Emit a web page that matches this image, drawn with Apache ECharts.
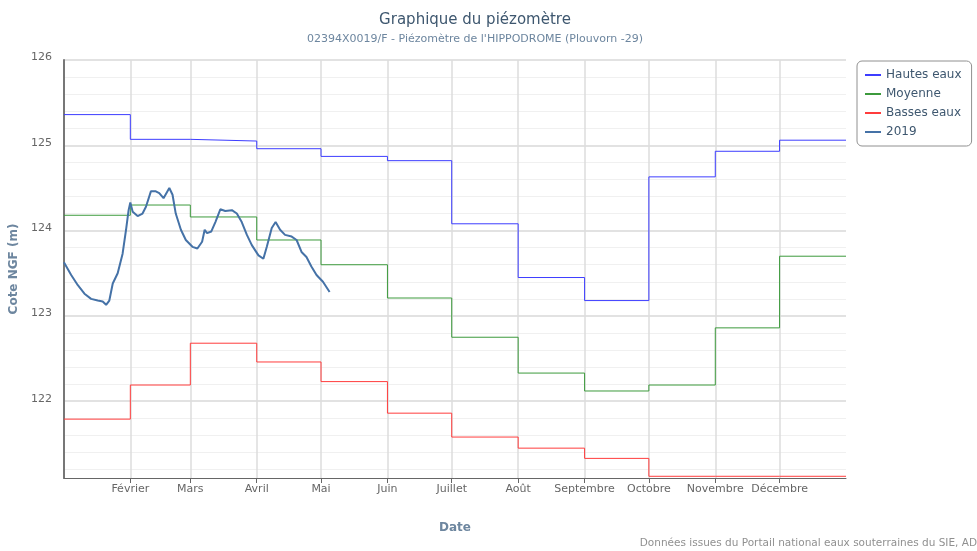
<!DOCTYPE html>
<html>
<head>
<meta charset="utf-8">
<script src="https://cdn.jsdelivr.net/npm/echarts@6/dist/echarts.min.js"></script>
<style>
  html, body { margin: 0; padding: 0; background: #fff; }
  #main { width: 977px; height: 551px; }
</style>
</head>
<body>
<div id="main"></div>
<script>
// jour de l'année (2019) au début de chaque mois, + fin d'année
const monthStarts = [0, 31, 59, 90, 120, 151, 181, 212, 243, 273, 304, 334, 365];
const monthNames = ['Janvier', 'Février', 'Mars', 'Avril', 'Mai', 'Juin', 'Juillet', 'Août',
  'Septembre', 'Octobre', 'Novembre', 'Décembre'];
const xTickDays = [31, 59, 90, 120, 151, 181, 212, 243, 273, 304, 334];

// valeurs mensuelles (m NGF)
const hautesEaux = [125.36, 125.07, 125.05, 124.96, 124.87, 124.82, 124.08, 123.45, 123.18, 124.63, 124.93, 125.06];
const moyenne = [124.18, 124.30, 124.16, 123.89, 123.60, 123.21, 122.75, 122.33, 122.12, 122.19, 122.86, 123.70];
const bassesEaux = [121.79, 122.19, 122.68, 122.46, 122.23, 121.86, 121.58, 121.45, 121.33, 121.12, 121.12, 121.12];

// 2019 : jour de l'année / niveau
const days2019 = [0, 3.4, 6.5, 9.6, 12.7, 15.8, 18.1, 19.7, 21.2, 22.8, 25.1, 27.4, 29, 30.2, 31,
  32.1, 34.4, 36.7, 38.3, 40.6, 42.9, 44.5, 46.5, 49.2, 50.7, 52.2, 54.6, 56.9, 60, 62.3,
  64.5, 65.7, 66.8, 68.8, 70.7, 73, 75.3, 78.4, 80.7, 83, 85.4, 87.7, 90.8, 93.1, 94.7,
  97, 98.8, 100.9, 103.2, 106.3, 108.6, 110.9, 113.2, 115.5, 117.9, 120.9, 124];
const niveaux2019 = [123.63, 123.48, 123.36, 123.26, 123.20, 123.18, 123.17, 123.13, 123.18, 123.38,
  123.50, 123.73, 124.01, 124.24, 124.33, 124.22, 124.17, 124.20, 124.28, 124.46, 124.46, 124.44,
  124.38, 124.50, 124.42, 124.20, 124.01, 123.89, 123.81, 123.79, 123.87, 124.01, 123.97, 123.99,
  124.10, 124.25, 124.23, 124.24, 124.20, 124.10, 123.95, 123.83, 123.71, 123.67, 123.81, 124.03,
  124.10, 124.01, 123.95, 123.93, 123.89, 123.75, 123.69, 123.58, 123.48, 123.40, 123.28];

// graduations de l'axe Y
const yMajorTicks = [122, 123, 124, 125, 126];
const yMinorTicks = [121.2, 121.4, 121.6, 121.8, 122.2, 122.4, 122.6, 122.8, 123.2, 123.4, 123.6, 123.8,
  124.2, 124.4, 124.6, 124.8, 125.2, 125.4, 125.6, 125.8];

const font = 'DejaVu Sans, Verdana, sans-serif';

// série en escalier : chaque mois garde sa valeur jusqu'au mois suivant
function stepData(values) {
  const out = monthStarts.slice(0, 12).map((d, i) => [d, values[i]]);
  out.push([365, values[11]]);
  return out;
}

const chart = echarts.init(document.getElementById('main'));

chart.setOption({
  animation: false,
  textStyle: { fontFamily: font },
  title: [{
    text: 'Graphique du piézomètre',
    left: 470, top: 8, textAlign: 'center',
    textStyle: { fontFamily: font, fontSize: 15, fontWeight: 'normal', color: '#3E576F' }
  }, {
    text: "02394X0019/F - Piézomètre de l'HIPPODROME (Plouvorn -29)",
    left: 470, top: 29, textAlign: 'center',
    textStyle: { fontFamily: font, fontSize: 11, fontWeight: 'normal', color: '#6D869F' }
  }],
  legend: {
    orient: 'vertical',
    left: 857, top: 61,
    padding: [8, 10, 8, 8],
    itemGap: 7,
    icon: 'rect',
    itemWidth: 16, itemHeight: 2,
    borderColor: '#909090', borderWidth: 1, borderRadius: 5,
    textStyle: { fontFamily: font, fontSize: 12, color: '#3E576F' },
    data: ['Hautes eaux', 'Moyenne', 'Basses eaux', '2019']
  },
  grid: { left: 61, right: 131, top: 60, bottom: 73 },
  xAxis: {
    type: 'value',
    min: 0, max: 365,
    name: 'Date',
    nameLocation: 'middle',
    nameGap: 44,
    nameTextStyle: { fontFamily: font, fontSize: 12, fontWeight: 'bold', color: '#6D869F' },
    axisLine: { show: true, lineStyle: { color: '#666', width: 1 } },
    axisTick: { show: true, length: 5, lineStyle: { color: '#666' }, customValues: xTickDays },
    axisLabel: {
      customValues: xTickDays,
      margin: 6,
      fontSize: 11, color: '#666',
      formatter: v => monthNames[monthStarts.indexOf(Math.round(v))] || ''
    },
    splitLine: { show: true, lineStyle: { color: '#DDDDDD', width: 1.5 } }
  },
  yAxis: [{
    type: 'value',
    min: 121.1, max: 126,
    name: 'Cote NGF (m)',
    nameLocation: 'middle',
    nameGap: 42,
    nameTextStyle: { fontFamily: font, fontSize: 12, fontWeight: 'bold', color: '#6D869F' },
    axisLine: { show: true, lineStyle: { color: '#777', width: 2 } },
    axisTick: { show: false, customValues: yMinorTicks },
    axisLabel: {
      customValues: yMajorTicks,
      margin: 12, fontSize: 11, color: '#666',
      verticalAlign: 'bottom', padding: [0, 0, -3, 0]
    },
    splitLine: { show: true, lineStyle: { color: '#F0F0F0', width: 1 } }
  }, {
    type: 'value',
    position: 'left',
    min: 121.1, max: 126,
    axisLine: { show: false },
    axisTick: { show: false, customValues: yMajorTicks },
    axisLabel: { show: false },
    splitLine: { show: true, lineStyle: { color: '#D8D8D8', width: 1.5 } }
  }],
  series: [{
    name: 'Hautes eaux', type: 'line', step: 'end', symbol: 'none',
    color: '#3D3DFF', lineStyle: { width: 1 },
    data: stepData(hautesEaux)
  }, {
    name: 'Moyenne', type: 'line', step: 'end', symbol: 'none',
    color: '#3C9A3C', lineStyle: { width: 1 },
    data: stepData(moyenne)
  }, {
    name: 'Basses eaux', type: 'line', step: 'end', symbol: 'none',
    color: '#FF3C3C', lineStyle: { width: 1 },
    data: stepData(bassesEaux)
  }, {
    name: '2019', type: 'line', symbol: 'none',
    color: '#4572A7', lineStyle: { width: 2 },
    data: days2019.map((d, i) => [d, niveaux2019[i]])
  }],
  graphic: [{
    type: 'text',
    right: 0, bottom: 2,
    style: {
      text: 'Données issues du Portail national eaux souterraines du SIE, AD',
      fontFamily: font, fontSize: 10.5, fill: '#909090'
    }
  }]
});
</script>
</body>
</html>
